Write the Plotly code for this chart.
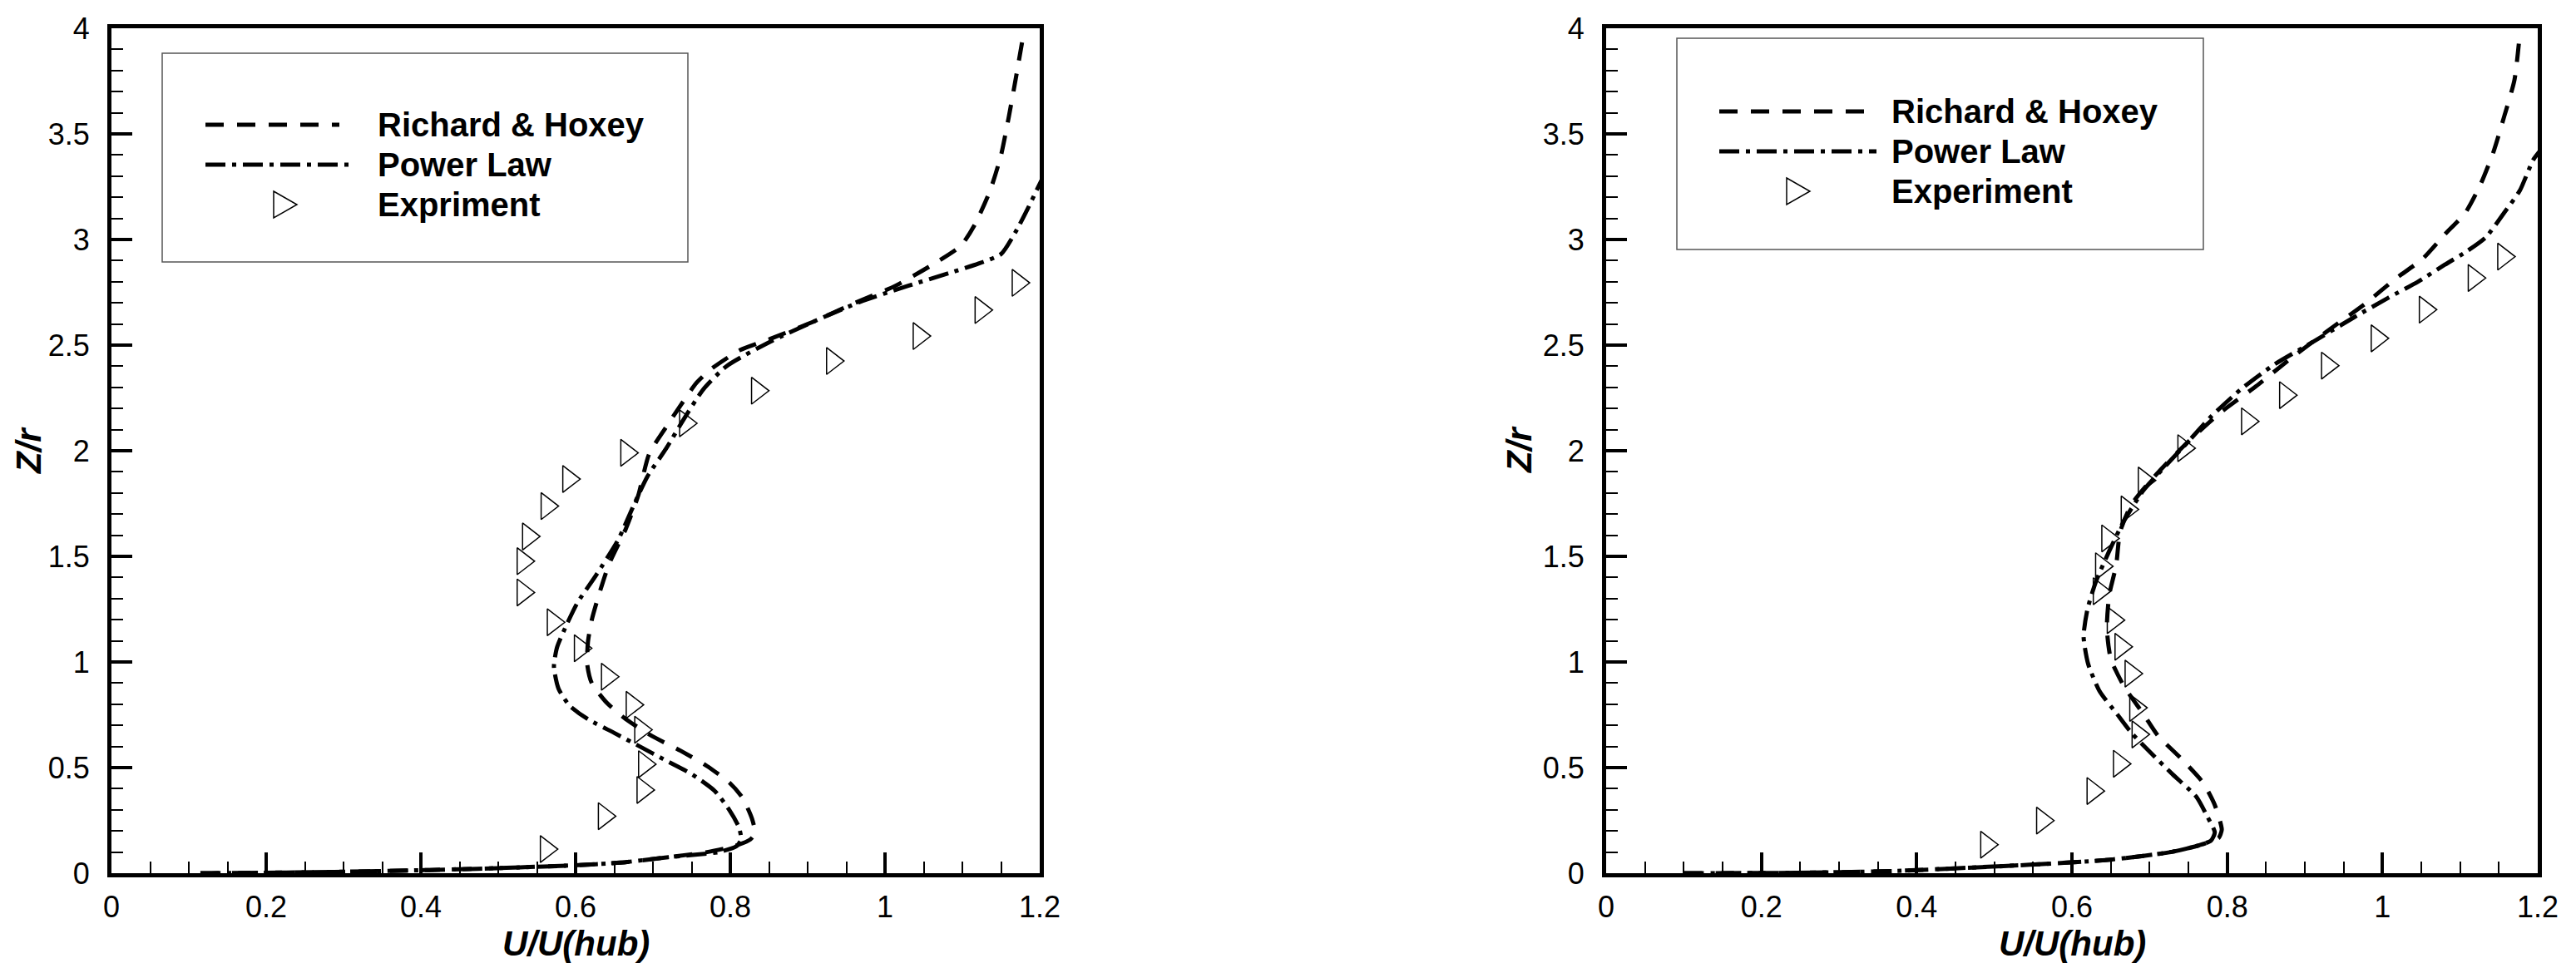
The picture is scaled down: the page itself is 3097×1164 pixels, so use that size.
import plotly.graph_objects as go

W, H = 3097, 1164
PAGE_OFFSET = 8  # body margin of the html page

# ---- left panel ----
rh_left_x = [0.115, 0.226, 0.350, 0.473, 0.597, 0.658, 0.720, 0.770, 0.805, 0.826, 0.832, 0.828, 0.816,
             0.799, 0.770, 0.736, 0.698, 0.665, 0.640, 0.621, 0.615, 0.616, 0.621, 0.629, 0.643, 0.665,
             0.681, 0.695, 0.717, 0.736, 0.756, 0.775, 0.813, 0.852, 0.910, 0.958, 1.013, 1.060, 1.098,
             1.116, 1.136, 1.150, 1.160, 1.169, 1.179]
rh_left_z = [0.000, 0.003, 0.010, 0.021, 0.037, 0.050, 0.076, 0.100, 0.128, 0.160, 0.190, 0.259, 0.356,
             0.428, 0.507, 0.579, 0.651, 0.729, 0.808, 0.899, 0.990, 1.095, 1.200, 1.304, 1.461, 1.631,
             1.788, 1.984, 2.112, 2.216, 2.320, 2.386, 2.477, 2.530, 2.615, 2.695, 2.780, 2.878, 2.970,
             3.070, 3.233, 3.399, 3.580, 3.761, 3.972]

pl_left_x = [0.115, 0.226, 0.350, 0.473, 0.597, 0.658, 0.720, 0.785, 0.808, 0.814, 0.811, 0.799, 0.780,
             0.751, 0.717, 0.684, 0.650, 0.616, 0.592, 0.578, 0.572, 0.576, 0.588, 0.602, 0.626, 0.655,
             0.676, 0.693, 0.717, 0.740, 0.765, 0.795, 0.852, 0.910, 0.968, 1.030, 1.083, 1.121, 1.150,
             1.169, 1.184, 1.196, 1.205]
pl_left_z = [0.000, 0.003, 0.010, 0.021, 0.037, 0.050, 0.076, 0.100, 0.128, 0.160, 0.219, 0.298, 0.389,
             0.467, 0.533, 0.598, 0.664, 0.729, 0.794, 0.873, 0.977, 1.069, 1.173, 1.278, 1.408, 1.578,
             1.749, 1.879, 2.010, 2.150, 2.290, 2.400, 2.517, 2.615, 2.705, 2.781, 2.841, 2.886, 2.931,
             3.037, 3.142, 3.233, 3.300]

exp_left_x = [0.562, 0.637, 0.687, 0.689, 0.684, 0.673, 0.641, 0.606, 0.571, 0.532, 0.532, 0.539, 0.563,
              0.591, 0.666, 0.742, 0.835, 0.932, 1.044, 1.124, 1.172]
exp_left_z = [0.114, 0.270, 0.394, 0.516, 0.679, 0.797, 0.930, 1.065, 1.188, 1.329, 1.477, 1.594, 1.738,
              1.866, 1.990, 2.130, 2.284, 2.425, 2.543, 2.666, 2.795]

# ---- right panel ----
rh_right_x = [0.100, 0.244, 0.368, 0.449, 0.546, 0.643, 0.692, 0.730, 0.760, 0.779, 0.789, 0.793, 0.784,
              0.769, 0.740, 0.711, 0.692, 0.667, 0.650, 0.645, 0.648, 0.657, 0.662, 0.677, 0.706, 0.740,
              0.789, 0.837, 0.886, 0.934, 0.978, 1.017, 1.051, 1.080, 1.107, 1.126, 1.143, 1.157, 1.170,
              1.177]
rh_right_z = [0.000, 0.002, 0.010, 0.023, 0.040, 0.062, 0.082, 0.102, 0.128, 0.150, 0.167, 0.206, 0.323,
              0.428, 0.545, 0.650, 0.754, 0.885, 1.015, 1.159, 1.316, 1.459, 1.616, 1.747, 1.877, 2.008,
              2.174, 2.305, 2.449, 2.580, 2.697, 2.815, 2.906, 3.023, 3.128, 3.258, 3.415, 3.585, 3.755,
              3.976]

pl_right_x = [0.100, 0.244, 0.368, 0.449, 0.546, 0.643, 0.692, 0.730, 0.760, 0.779, 0.784, 0.774, 0.760,
              0.730, 0.701, 0.677, 0.658, 0.636, 0.621, 0.615, 0.620, 0.631, 0.648, 0.667, 0.692, 0.721,
              0.750, 0.779, 0.818, 0.861, 0.910, 0.963, 1.007, 1.046, 1.080, 1.109, 1.133, 1.157, 1.177,
              1.194, 1.203]
pl_right_z = [0.000, 0.002, 0.010, 0.023, 0.040, 0.062, 0.082, 0.102, 0.128, 0.154, 0.193, 0.271, 0.363,
              0.467, 0.572, 0.663, 0.754, 0.859, 0.989, 1.120, 1.250, 1.381, 1.525, 1.668, 1.812, 1.930,
              2.044, 2.161, 2.292, 2.409, 2.514, 2.631, 2.723, 2.801, 2.880, 2.945, 3.010, 3.128, 3.232,
              3.376, 3.420]

exp_right_x = [0.490, 0.562, 0.627, 0.661, 0.685, 0.682, 0.676, 0.663, 0.653, 0.635, 0.638, 0.646, 0.671,
               0.693, 0.744, 0.826, 0.875, 0.929, 0.993, 1.055, 1.118, 1.156]
exp_right_z = [0.135, 0.249, 0.389, 0.518, 0.657, 0.783, 0.945, 1.072, 1.198, 1.335, 1.453, 1.585, 1.722,
               1.859, 2.012, 2.139, 2.263, 2.403, 2.532, 2.668, 2.818, 2.919]

legend_left = ["Richard & Hoxey", "Power Law", "Expriment"]
legend_right = ["Richard & Hoxey", "Power Law", "Experiment"]

DASH = "22px,16px"
DASHDOT = "24px,8px,5px,8px"
LW = 5
FONT = "Liberation Sans, Arial, sans-serif"


def px(X):
    return (X - PAGE_OFFSET) / W


def py(Y):
    return 1 - (Y - PAGE_OFFSET) / H


fig = go.Figure()

panels = [
    ("x", "y", rh_left_x, rh_left_z, pl_left_x, pl_left_z, exp_left_x, exp_left_z),
    ("x2", "y2", rh_right_x, rh_right_z, pl_right_x, pl_right_z, exp_right_x, exp_right_z),
]
for xa, ya, rx, rz, plx, plz, ex, ez in panels:
    fig.add_trace(go.Scatter(x=rx, y=rz, mode="lines", xaxis=xa, yaxis=ya,
                             line=dict(color="black", width=LW, dash=DASH, shape="spline", smoothing=0.6)))
    fig.add_trace(go.Scatter(x=plx, y=plz, mode="lines", xaxis=xa, yaxis=ya,
                             line=dict(color="black", width=LW, dash=DASHDOT, shape="spline", smoothing=0.6)))
    fig.add_trace(go.Scatter(x=ex, y=ez, mode="markers", xaxis=xa, yaxis=ya,
                             marker=dict(symbol="triangle-right-open", size=28,
                                         color="black", line=dict(width=1.5, color="black"))))

xaxis_style = dict(
    range=[0, 1.2], dtick=0.2, showgrid=False, zeroline=False, automargin=False,
    showline=True, linewidth=5, linecolor="black", mirror=True,
    ticks="inside", ticklen=25, tickwidth=4, tickcolor="black",
    minor=dict(dtick=0.05, ticks="inside", ticklen=14, tickwidth=2, tickcolor="black"),
    tickfont=dict(family=FONT, size=36, color="black"), ticklabelstandoff=5,
)
yaxis_style = dict(
    range=[0, 4], dtick=0.5, showgrid=False, zeroline=False, automargin=False,
    showline=True, linewidth=5, linecolor="black", mirror=True,
    ticks="inside", ticklen=25, tickwidth=4, tickcolor="black",
    minor=dict(dtick=0.1, ticks="inside", ticklen=14, tickwidth=2, tickcolor="black"),
    tickfont=dict(family=FONT, size=36, color="black"), ticklabelstandoff=14,
)

ydom = [py(1050), py(34)]
fig.update_layout(
    width=W, height=H, margin=dict(l=0, r=0, t=0, b=0, pad=0),
    paper_bgcolor="white", plot_bgcolor="white", showlegend=False,
    xaxis=dict(domain=[px(134), px(1250)], anchor="y", **xaxis_style),
    yaxis=dict(domain=ydom, anchor="x", **yaxis_style),
    xaxis2=dict(domain=[px(1931), px(3051)], anchor="y2", **xaxis_style),
    yaxis2=dict(domain=ydom, anchor="x2", **yaxis_style),
)

# axis titles
title_font = dict(family=FONT, size=42, color="black")
for xc, yc_label in [(692, 35), (2491, 1827)]:
    fig.add_annotation(x=px(xc), y=py(1134), xref="paper", yref="paper", showarrow=False,
                       text="<b><i>U/U(hub)</i></b>", font=title_font, xanchor="center", yanchor="middle")
    fig.add_annotation(x=px(yc_label), y=py(541), xref="paper", yref="paper", showarrow=False,
                       text="<b><i>Z/r</i></b>", font=title_font, textangle=-90,
                       xanchor="center", yanchor="middle")

# legends drawn as boxes
legend_boxes = [
    dict(box=(195, 64, 827, 315), rows=(150, 198, 246), line=(247, 408, 422), tri=342, text=452,
         labels=legend_left),
    dict(box=(2016, 46, 2649, 300), rows=(134, 182, 230), line=(2067, 2242, 2256), tri=2161, text=2272,
         labels=legend_right),
]
for lg in legend_boxes:
    x0, y0, x1, y1 = lg["box"]
    fig.add_shape(type="rect", xref="paper", yref="paper", x0=px(x0), x1=px(x1), y0=py(y1), y1=py(y0),
                  line=dict(color="#555555", width=1.5), fillcolor="white", layer="below")
    r1, r2, r3 = lg["rows"]
    lx0, lx1, lx2 = lg["line"]
    fig.add_shape(type="line", xref="paper", yref="paper", x0=px(lx0), x1=px(lx1), y0=py(r1), y1=py(r1),
                  line=dict(color="black", width=LW, dash=DASH))
    fig.add_shape(type="line", xref="paper", yref="paper", x0=px(lx0), x1=px(lx2), y0=py(r2), y1=py(r2),
                  line=dict(color="black", width=LW, dash=DASHDOT))
    t = lg["tri"]
    path = "M {:.5f},{:.5f} L {:.5f},{:.5f} L {:.5f},{:.5f} Z".format(
        px(t - 13), py(r3 - 16), px(t + 15), py(r3), px(t - 13), py(r3 + 16))
    fig.add_shape(type="path", xref="paper", yref="paper", path=path,
                  line=dict(color="black", width=1.5))
    for row, label in zip(lg["rows"], lg["labels"]):
        fig.add_annotation(x=px(lg["text"]), y=py(row), xref="paper", yref="paper", showarrow=False,
                           text="<b>" + label + "</b>", xanchor="left", yanchor="middle",
                           font=dict(family=FONT, size=40, color="black"))

fig.write_html("out.html")
